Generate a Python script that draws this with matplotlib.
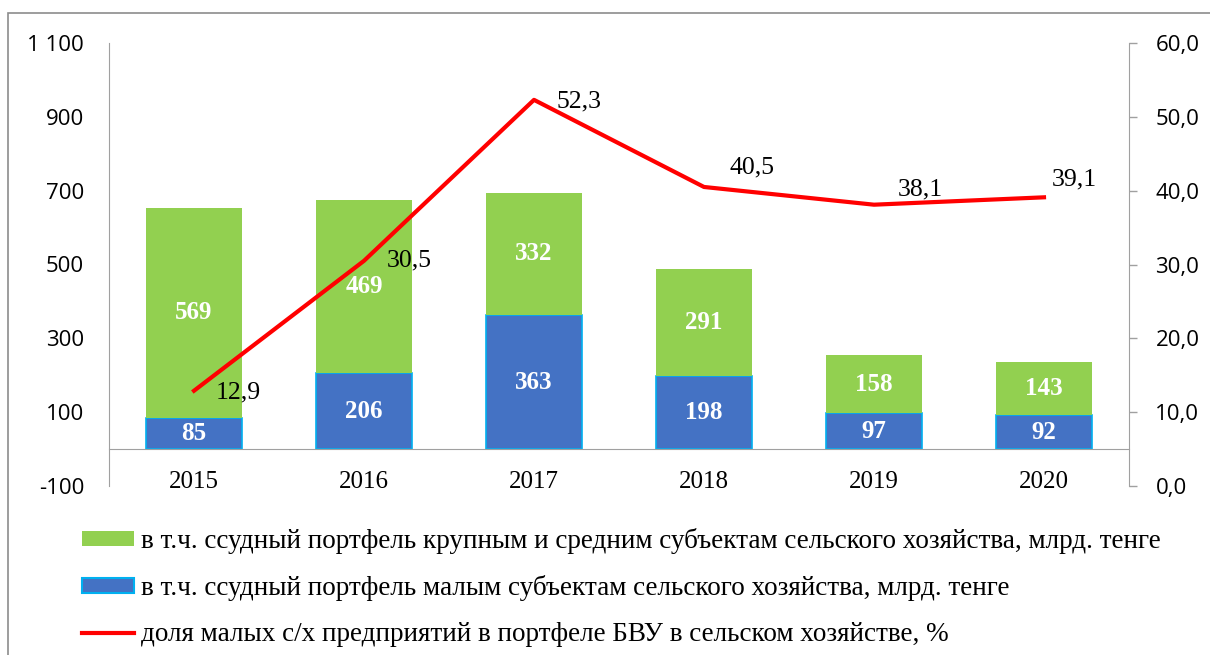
import matplotlib.pyplot as plt
import matplotlib.patches as mpatches
import matplotlib.lines as mlines
from matplotlib.ticker import FuncFormatter
import numpy as np

years = ['2015', '2016', '2017', '2018', '2019', '2020']
small = [85, 206, 363, 198, 97, 92]
large = [569, 469, 332, 291, 158, 143]
share = [12.9, 30.5, 52.3, 40.5, 38.1, 39.1]

lbl_large = 'в т.ч. ссудный портфель крупным и средним субъектам сельского хозяйства, млрд. тенге'
lbl_small = 'в т.ч. ссудный портфель малым субъектам сельского хозяйства, млрд. тенге'
lbl_share = 'доля малых с/х предприятий в портфеле БВУ в сельском хозяйстве, %'

# label offsets for the line values, pixels
share_off = [(22, -2), (23, 0), (23, -2), (26, 20), (24, 15), (8, 18)]

green = '#92D050'
blue = '#4472C4'
cyan = '#00B0F0'
gray = '#A0A0A0'
serif = 'Liberation Serif'
sans = 'Open Sans'

fig = plt.figure(figsize=(12.1, 6.55), dpi=100)
ax = fig.add_axes([109/1210, 1-486/655, (1129-109)/1210, (486-43)/655])
ax2 = ax.twinx()

x = np.arange(len(years))
w = 0.57
ax.bar(x, small, w, color=blue, edgecolor=cyan, linewidth=1.2, zorder=2)
ax.bar(x, large, w, bottom=small, color=green, edgecolor='none', zorder=2)

for i in range(len(years)):
    ax.text(x[i], small[i]/2, str(small[i]), ha='center', va='center',
            color='white', fontweight='bold', fontsize=18, family=serif, zorder=4)
    ax.text(x[i], small[i] + large[i]/2, str(large[i]), ha='center', va='center',
            color='white', fontweight='bold', fontsize=18, family=serif, zorder=4)

ax.set_xlim(-0.5, len(years) - 0.5)
ax.set_ylim(-100, 1100)
ax.set_yticks(np.arange(-100, 1101, 200))
ax.yaxis.set_major_formatter(FuncFormatter(lambda v, p: f'{int(v):,}'.replace(',', ' ')))
ax.tick_params(axis='y', length=0, pad=18, labelsize=16)
for t in ax.get_yticklabels():
    t.set_family(sans)

ax.spines['bottom'].set_position(('data', 0))
ax.spines['bottom'].set_color(gray)
ax.spines['left'].set_color(gray)
ax.spines['top'].set_visible(False)
ax.spines['right'].set_visible(False)
ax.set_xticks(x)
ax.set_xticklabels(years, family=serif, fontsize=18)
ax.tick_params(axis='x', length=0, pad=16)

ax2.plot(x, share, color='#FF0000', linewidth=3, zorder=3)
for i, v in enumerate(share):
    ax2.annotate(f'{v:.1f}'.replace('.', ','), (x[i], v), xytext=share_off[i],
                 textcoords='offset pixels', ha='left', va='center',
                 fontsize=18.5, family=serif)
ax2.set_ylim(0, 60)
ax2.set_yticks(np.arange(0, 61, 10))
ax2.yaxis.set_major_formatter(FuncFormatter(lambda v, p: f'{v:.1f}'.replace('.', ',')))
ax2.tick_params(axis='y', length=6, width=1, color=gray, pad=13, labelsize=16)
for t in ax2.get_yticklabels():
    t.set_family(sans)
for s in ['top', 'bottom', 'left']:
    ax2.spines[s].set_visible(False)
ax2.spines['right'].set_color(gray)
ax2.patch.set_visible(False)

# legend
h1 = mpatches.Patch(facecolor=green, edgecolor='none')
h2 = mpatches.Patch(facecolor=blue, edgecolor=cyan, linewidth=1.5)
h3 = mlines.Line2D([], [], color='#FF0000', linewidth=3)
fig.legend([h1, h2, h3], [lbl_large, lbl_small, lbl_share], loc='upper left',
           bbox_to_anchor=(82/1210, 1-528/655), frameon=False, borderpad=0,
           borderaxespad=0, handlelength=1.93, handleheight=0.5,
           handletextpad=0.25, labelspacing=0.78,
           prop={'family': serif, 'size': 19.5})

# outer chart frame
fig.patches.append(mpatches.Rectangle((8/1210, -0.2), 1.2, 1.2 - 13/655,
                                      transform=fig.transFigure, fill=False,
                                      edgecolor='#8C8C8C', linewidth=1.2))

fig.savefig('out.png', dpi=100)
